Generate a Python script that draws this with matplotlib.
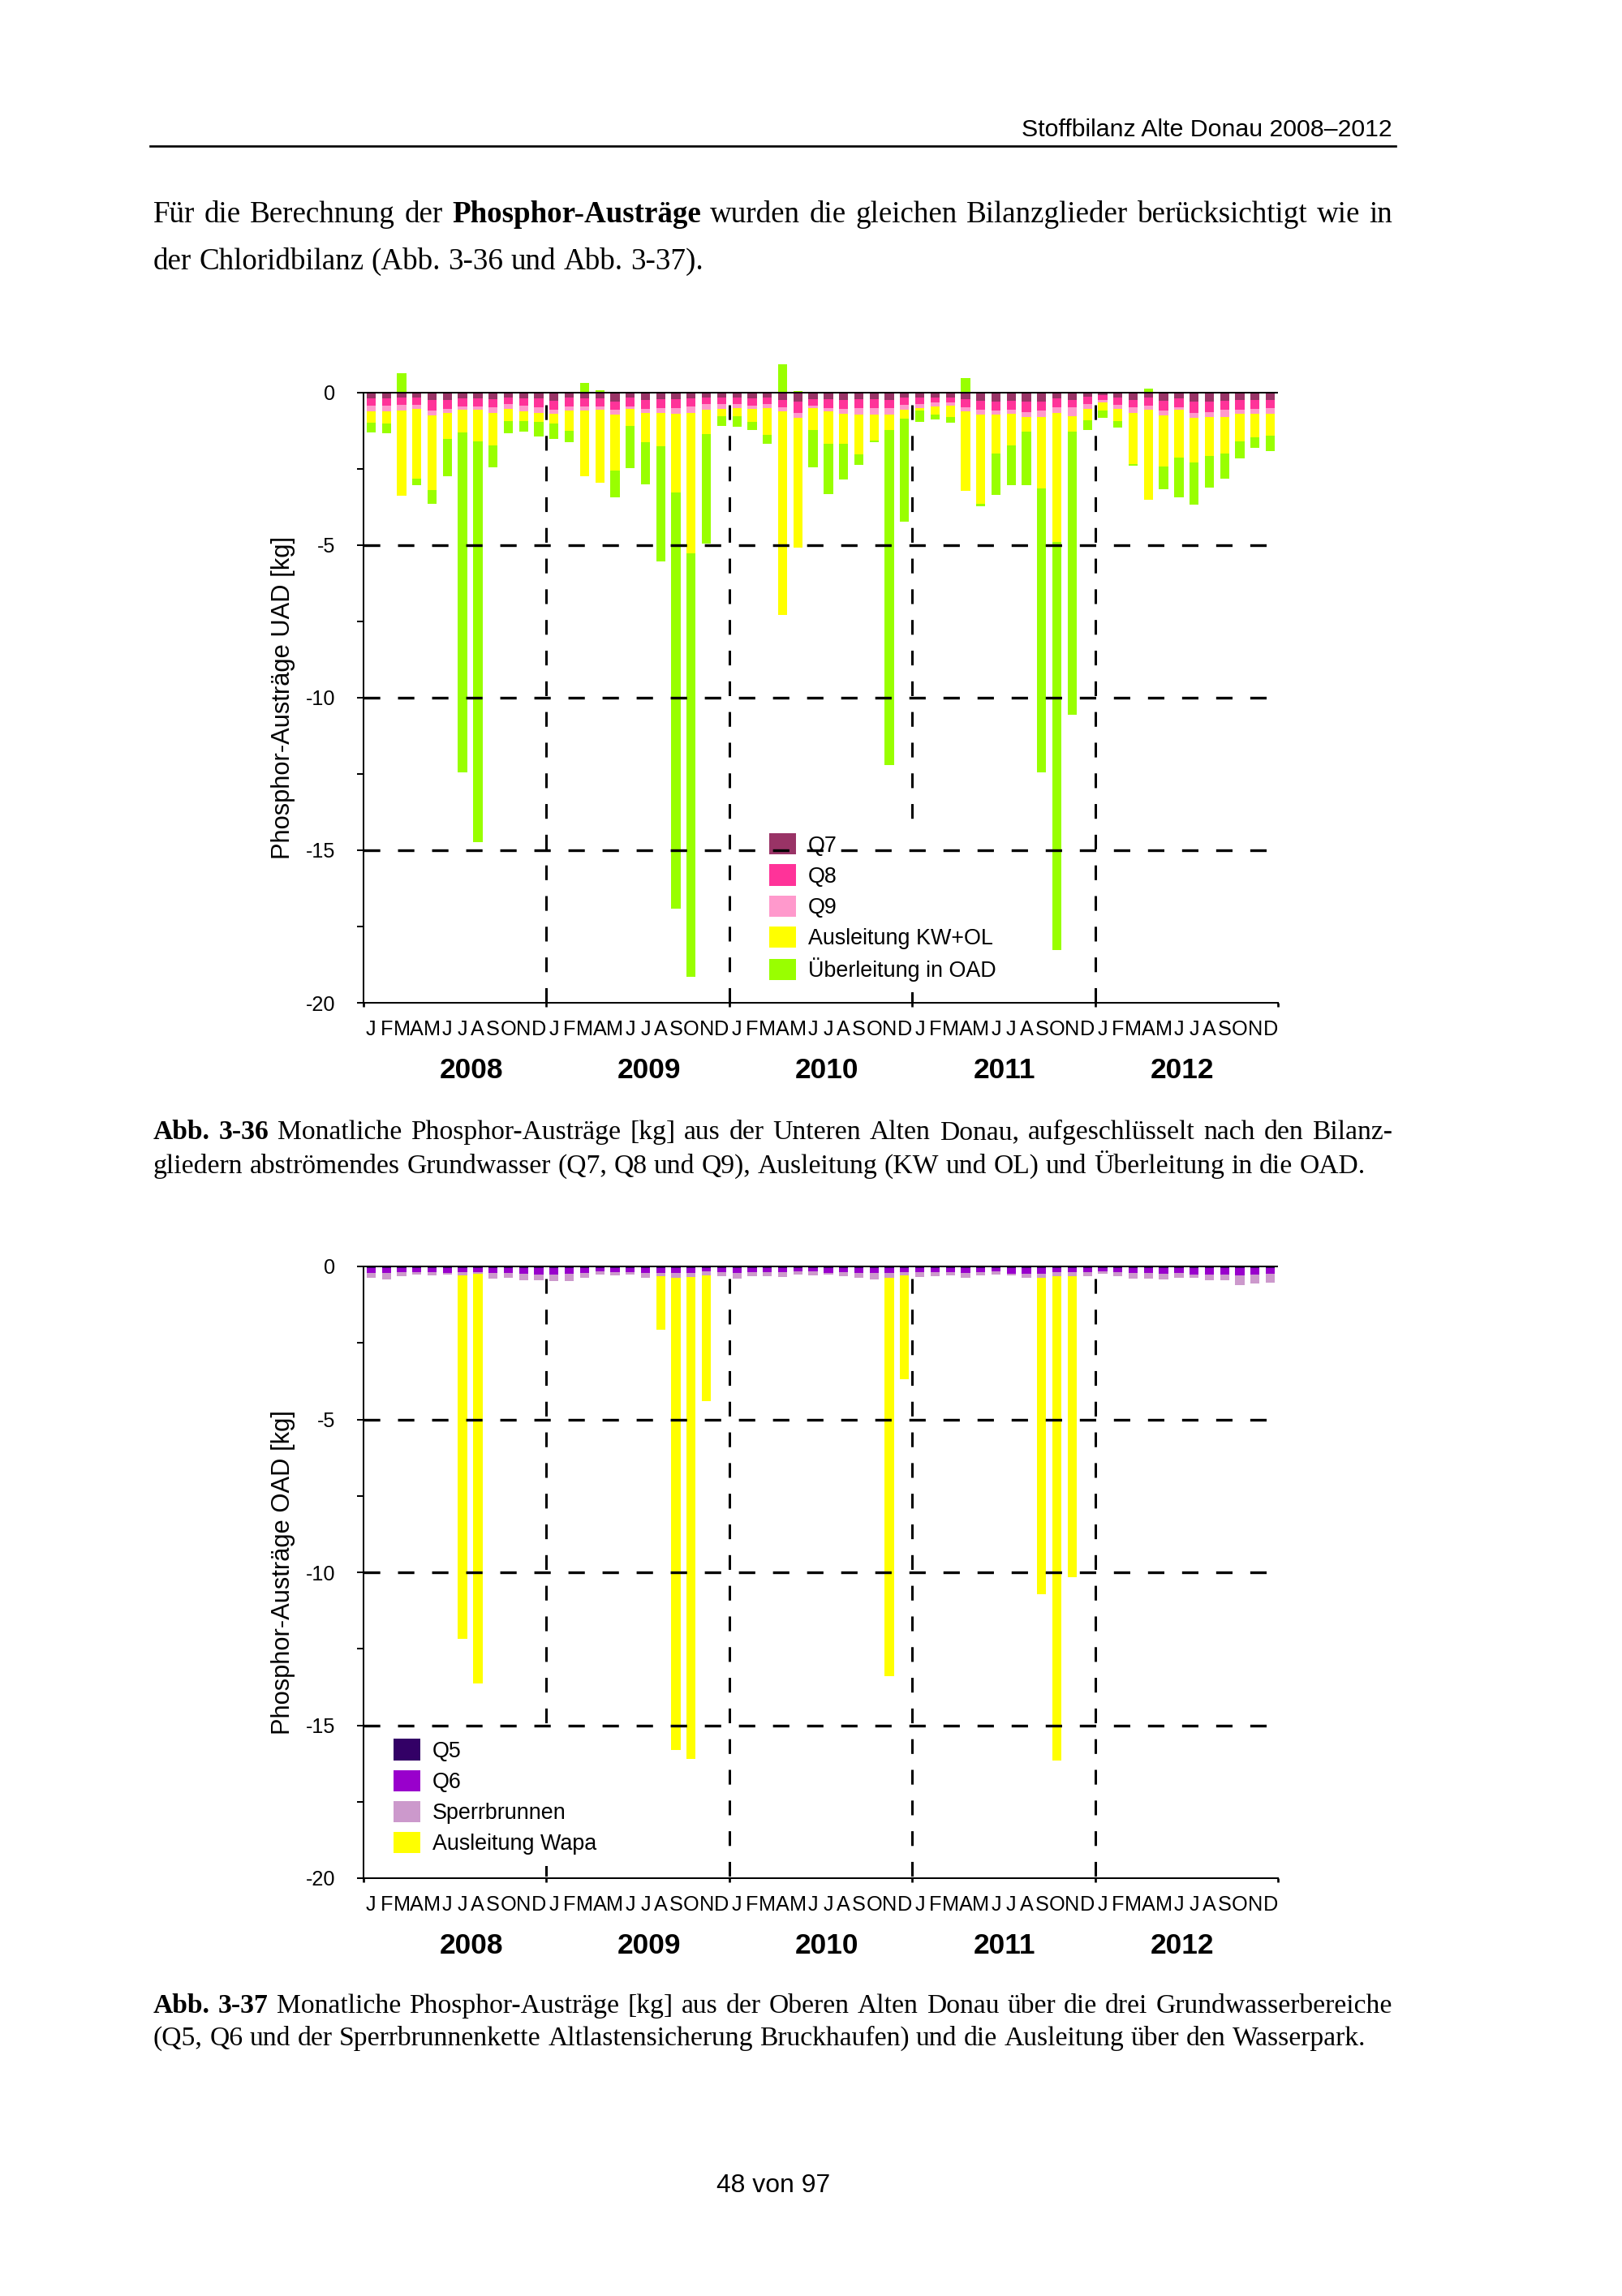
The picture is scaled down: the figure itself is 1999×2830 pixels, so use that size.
import numpy as np
import matplotlib
matplotlib.use('Agg')
import matplotlib.pyplot as plt
from matplotlib.patches import Patch
from matplotlib.lines import Line2D
import matplotlib.transforms as mtransforms

# ---- data: monthly phosphorus exports [kg], Jan 2008 .. Dec 2012 (positive = Austrag) ----
years = ['2008', '2009', '2010', '2011', '2012']
month_letters = ['J', 'F', 'M', 'A', 'M', 'J', 'J', 'A', 'S', 'O', 'N', 'D']

# Untere Alte Donau (UAD)
q7 = [.195, .195, .168, .168, .24, .24, .195, .195, .213, .15, .177, .195,
      .257, .168, .177, .195, .284, .168, .24, .213, .213, .195, .15, .15,
      .15, .195, .15, .24, .284, .213, .213, .24, .213, .213, .24, .168,
      .15, .15, .15, .213, .257, .284, .257, .284, .284, .195, .24, .124,
      .08, .15, .24, .168, .257, .195, .30, .284, .257, .24, .24, .24]
q8 = [.24, .24, .23, .23, .355, .284, .25, .25, .275, .22, .257, .284,
      .29, .29, .266, .25, .284, .275, .284, .29, .29, .25, .22, .22,
      .22, .24, .22, .24, .37, .20, .29, .284, .29, .29, .266, .23,
      .22, .16, .177, .266, .31, .31, .31, .355, .31, .284, .24, .25,
      .16, .24, .24, .25, .337, .284, .36, .355, .31, .31, .284, .266]
q9 = [.186, .186, .195, .124, .15, .133, .124, .124, .168, .15, .186, .186,
      .15, .133, .15, .124, .16, .08, .133, .15, .195, .213, .195, .15,
      .133, .09, .133, .14, .177, .09, .115, .177, .22, .22, .22, .168,
      .133, .15, .09, .14, .16, .133, .133, .15, .195, .186, .29, .15,
      .09, .133, .177, .15, .16, .09, .17, .15, .22, .15, .177, .177]
ausleitung_kw_ol = [.355, .40, 2.79, 2.30, 2.44, .87, .736, 1.03, 1.06, .40, .30, .284,
                    .32, .65, 2.15, 2.38, 1.835, .56, .975, 1.11, 2.57, 4.61, .78, .25,
                    .266, .425, .87, 6.68, 4.26, .71, 1.06, .98, 1.29, .84, .49, .29,
                    .09, .266, .37, 2.61, 2.91, 1.26, 1.03, .50, 2.36, 4.23, .505, .38,
                    .266, .41, 1.69, 2.95, 1.66, 1.55, 1.47, 1.29, 1.22, .895, .75, .73]
# negative values = Eintrag (drawn above zero)
ueberleitung_oad = [.328, .32, -.65, .22, .47, 1.22, 11.15, 13.14, .74, .42, .35, .49,
                    .505, .38, -.33, -.07, .87, 1.40, 1.37, 3.78, 13.66, 13.88, 3.61, .31,
                    .337, .284, .31, -.94, -.04, 1.24, 1.64, 1.17, .355, .06, 11.0, 3.37,
                    .355, .16, .186, -.47, .08, 1.37, 1.30, 1.75, 9.30, 13.38, 9.29, .33,
                    .22, .21, .05, -.12, .75, 1.31, 1.37, 1.04, .80, .55, .36, .50]

# Obere Alte Donau (OAD)
q5 = [.05, .05, .05, .05, .05, .05, .05, .05, .05, .05, .05, .05,
      .05, .05, .05, .05, .05, .05, .05, .05, .05, .05, .05, .05,
      .05, .05, .05, .05, .05, .05, .05, .05, .05, .05, .05, .05,
      .05, .05, .05, .05, .05, .05, .05, .05, .05, .05, .05, .05,
      .05, .05, .05, .05, .05, .05, .05, .05, .05, .05, .05, .05]
q6 = [.16, .16, .14, .13, .14, .16, .14, .13, .16, .16, .19, .22,
      .22, .19, .16, .10, .14, .14, .16, .16, .16, .16, .10, .14,
      .16, .14, .14, .14, .10, .10, .16, .14, .16, .16, .16, .14,
      .14, .14, .13, .16, .13, .10, .19, .19, .19, .14, .13, .13,
      .10, .14, .16, .16, .19, .16, .22, .22, .22, .23, .22, .19]
sperrbrunnen = [.16, .22, .13, .09, .11, .05, .09, .06, .19, .16, .22, .17,
                .21, .24, .16, .12, .11, .07, .16, .12, .16, .13, .13, .13,
                .19, .13, .12, .15, .12, .13, .05, .13, .16, .22, .16, .11,
                .15, .13, .12, .16, .12, .12, .04, .13, .13, .13, .13, .15,
                .09, .12, .19, .19, .19, .16, .11, .17, .19, .34, .28, .28]
ausleitung_wapa = [0, 0, 0, 0, 0, 0, 11.9, 13.39, 0, 0, 0, 0,
                   0, 0, 0, 0, 0, 0, 0, 1.73, 15.45, 15.75, 4.13, 0,
                   0, 0, 0, 0, 0, 0, 0, 0, 0, 0, 13.03, 3.40,
                   0, 0, 0, 0, 0, 0, 0, 0, 10.34, 15.83, 9.85, 0,
                   0, 0, 0, 0, 0, 0, 0, 0, 0, 0, 0, 0]

# ---- page geometry (pixels of a 2000 x 2830 page) ----
W, H = 2000, 2830
DPI = 242
AX_LEFT, AX_RIGHT = 448, 1575

plt.rcParams['font.family'] = ['Liberation Sans', 'DejaVu Sans']

fig = plt.figure(figsize=(W / DPI, H / DPI), dpi=DPI)
fig.patch.set_facecolor('white')


def fx(px):
    return px / W


def fy(py):
    return 1 - py / H


def make_axes(y_zero, y_m20, ytop):
    unit = (y_m20 - y_zero) / 20.0
    top = y_zero - ytop * unit
    ax = fig.add_axes([fx(AX_LEFT), fy(y_m20), (AX_RIGHT - AX_LEFT) / W, (y_m20 - top) / H])
    ax.set_xlim(0, 60)
    ax.set_ylim(-20, ytop)
    return ax


def style_axes(ax, ylabel):
    for s in ['top', 'right']:
        ax.spines[s].set_visible(False)
    ax.spines['left'].set_bounds(-20, 0)
    ax.spines['left'].set_linewidth(0.6)
    ax.spines['bottom'].set_linewidth(0.6)
    ax.set_yticks([0, -5, -10, -15, -20])
    ax.set_yticklabels(['0', '-5', '-10', '-15', '-20'])
    ax.set_yticks(np.arange(-17.5, 0, 5), minor=True)
    ax.tick_params(axis='y', which='both', direction='out', length=2.5, width=0.6,
                   pad=7.9, labelsize=7.5)
    ax.set_xticks(np.arange(0, 61, 12))
    ax.set_xticklabels([])
    ax.tick_params(axis='x', which='major', direction='out', length=1.5, width=0.8)

    # dashed grid
    for y in (-5, -10, -15):
        ax.axhline(y, color='black', lw=1.0, ls=(0, (6, 6.5)), zorder=6)
    ax.axhline(0, color='black', lw=0.6, zorder=6)
    for xb in (12, 24, 36, 48):
        ax.plot([xb, xb], [-0.4, -20], color='black', lw=0.9, ls=(0, (6, 6.5)), zorder=1.5)

    # month letters and years
    for i in range(60):
        ax.annotate(month_letters[i % 12], xy=(i + 0.5, 0), xycoords=('data', 'axes fraction'),
                    xytext=(0, -11.9), textcoords='offset points',
                    ha='center', va='baseline', fontsize=7.5)
    for k, yr in enumerate(years):
        ax.annotate(yr, xy=(7.07 + 11.66 * k, 0), xycoords=('data', 'axes fraction'),
                    xytext=(0, -27.8), textcoords='offset points',
                    ha='center', va='baseline', fontsize=10.5, fontweight='bold')

    trans = mtransforms.blended_transform_factory(ax.transAxes, ax.transData)
    ax.text((349 - AX_LEFT) / (AX_RIGHT - AX_LEFT), -10, ylabel, transform=trans,
            rotation=90, ha='center', va='center', fontsize=9.2)


def add_legend(ax, colors, labels, patch_x, patch_y):
    fs = 8
    em = fs * DPI / 72.0
    bp = 0.5
    handles = [Patch(facecolor=c, edgecolor='none') for c in colors]
    bb = ax.get_position()
    axw = bb.width * W
    axh = bb.height * H
    x0, x1 = ax.get_xlim()
    y0, y1 = ax.get_ylim()
    ax_x = (patch_x - x0) / (x1 - x0) - bp * em / axw
    ax_y = (patch_y - y0) / (y1 - y0) + bp * em / axh
    leg = ax.legend(handles, labels, loc='upper left', bbox_to_anchor=(ax_x, ax_y),
                    borderaxespad=0, borderpad=bp, frameon=True, fancybox=False,
                    facecolor='white', edgecolor='white', framealpha=1,
                    handlelength=1.23, handleheight=1.12, labelspacing=0.37,
                    handletextpad=0.55, fontsize=fs)
    leg.get_frame().set_linewidth(0)
    leg.set_zorder(5)


x = np.arange(60) + 0.5
BW = 0.6

# ---- chart 1: UAD ----
ax1 = make_axes(484, 1236, 1.2)
cum = np.zeros(60)
uad_colors = ['#993366', '#FF3399', '#FF99CC', '#FFFF00', '#99FF00']
for vals, c in zip([q7, q8, q9, ausleitung_kw_ol], uad_colors[:4]):
    v = np.array(vals)
    ax1.bar(x, -v, bottom=cum, width=BW, color=c, linewidth=0, zorder=2)
    cum = cum - v
ue = np.array(ueberleitung_oad)
ax1.bar(x, -np.clip(ue, 0, None), bottom=cum, width=BW, color=uad_colors[4], linewidth=0, zorder=2)
ax1.bar(x, np.clip(-ue, 0, None), bottom=0, width=BW, color=uad_colors[4], linewidth=0, zorder=2)
style_axes(ax1, 'Phosphor-Austräge UAD [kg]')
add_legend(ax1, uad_colors, ['Q7', 'Q8', 'Q9', 'Ausleitung KW+OL', 'Überleitung in OAD'],
           (948 - AX_LEFT) / 18.78, -14.45)

# ---- chart 2: OAD ----
ax2 = make_axes(1561, 2315, 0.5)
cum = np.zeros(60)
oad_colors = ['#330066', '#9900CC', '#CC99CC', '#FFFF00']
for vals, c in zip([q5, q6, sperrbrunnen, ausleitung_wapa], oad_colors):
    v = np.array(vals)
    ax2.bar(x, -v, bottom=cum, width=BW, color=c, linewidth=0, zorder=2)
    cum = cum - v
style_axes(ax2, 'Phosphor-Austräge OAD [kg]')
add_legend(ax2, oad_colors, ['Q5', 'Q6', 'Sperrbrunnen', 'Ausleitung Wapa'],
           (485 - AX_LEFT) / 18.78, -15.45)

# ---- page text ----
renderer = fig.canvas.get_renderer()
SERIF = ['Liberation Serif', 'DejaVu Serif']


def text_line(segments, x0, x1, y_base, size, justify):
    words = []
    for seg, weight in segments:
        for w in seg.split():
            words.append((w, weight))
    objs = [fig.text(0, fy(y_base), w, fontsize=size, fontweight=wt, family=SERIF,
                     ha='left', va='baseline') for w, wt in words]
    widths = [t.get_window_extent(renderer).width for t in objs]
    if justify and len(objs) > 1:
        gap = (x1 - x0 - sum(widths)) / (len(objs) - 1)
    else:
        gap = 0.25 * size * DPI / 72.0
    pos = x0
    for t, w in zip(objs, widths):
        t.set_x(fx(pos))
        pos += w + gap


fig.text(fx(1716), fy(168), 'Stoffbilanz Alte Donau 2008–2012', ha='right', va='baseline',
         fontsize=9)
fig.add_artist(Line2D([fx(185), fx(1720)], [fy(180), fy(180)], lw=0.8, color='black',
                      transform=fig.transFigure))

TX0, TX1 = 189, 1716
text_line([('Für die Berechnung der', 'normal'), ('Phosphor-Austräge', 'bold'),
           ('wurden die gleichen Bilanzglieder berücksichtigt wie in', 'normal')],
          TX0, TX1, 274, 11, True)
text_line([('der Chloridbilanz (Abb. 3-36 und Abb. 3-37).', 'normal')], TX0, TX1, 332, 11, False)

text_line([('Abb. 3-36', 'bold'),
           ('Monatliche Phosphor-Austräge [kg] aus der Unteren Alten Donau, '
            'aufgeschlüsselt nach den Bilanz-', 'normal')], TX0, TX1, 1404, 10, True)
text_line([('gliedern abströmendes Grundwasser (Q7, Q8 und Q9), Ausleitung (KW und OL) '
            'und Überleitung in die OAD.', 'normal')], TX0, TX1, 1446, 10, False)

text_line([('Abb. 3-37', 'bold'),
           ('Monatliche Phosphor-Austräge [kg] aus der Oberen Alten Donau über die drei '
            'Grundwasserbereiche', 'normal')], TX0, TX1, 2481, 10, True)
text_line([('(Q5, Q6 und der Sperrbrunnenkette Altlastensicherung Bruckhaufen) und die '
            'Ausleitung über den Wasserpark.', 'normal')], TX0, TX1, 2521, 10, False)

fig.text(fx(953), fy(2702), '48 von 97', ha='center', va='baseline', fontsize=9.5)

fig.savefig('out.png', dpi=DPI, facecolor='white')
